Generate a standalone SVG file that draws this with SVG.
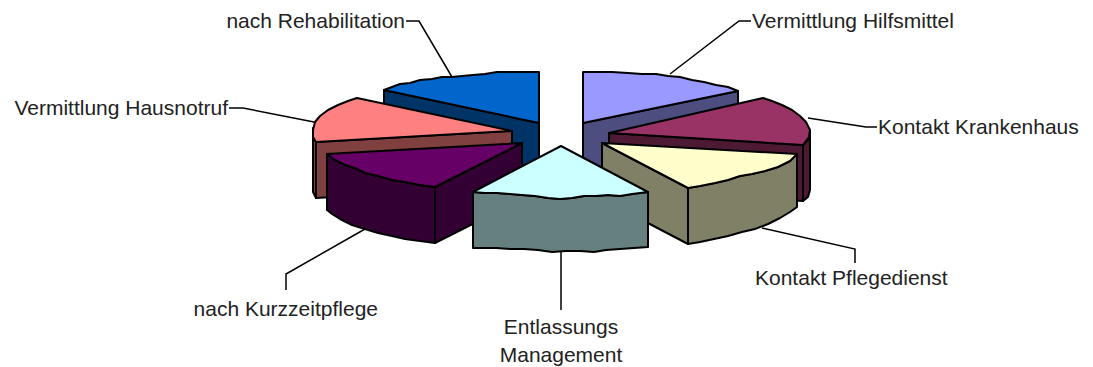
<svg xmlns="http://www.w3.org/2000/svg" width="1093" height="367" viewBox="0 0 1093 367">
<style>
.f{stroke:#000;stroke-width:2;stroke-linejoin:round}
.l{fill:none;stroke:#000;stroke-width:1.5}
text{font-family:"Liberation Sans",Arial,sans-serif;font-size:21px;fill:#222}
</style>
<rect width="1093" height="367" fill="#fff"/>
<g id="connectors">
<polyline class="l" points="406,21 419,21 452,77"/>
<polyline class="l" points="751,21 739,21 670,74"/>
<polyline class="l" points="229,108 243,108 314,122"/>
<polyline class="l" points="877,127 866,127 808,118"/>
<polyline class="l" points="762,228 855,249 855,263"/>
<polyline class="l" points="561,252 561,310"/>
<polyline class="l" points="365,229 286,274 286,290"/>
</g>
<g id="slice-rehabilitation">
<polygon class="f" fill="#003366" points="384,90 539,123 539,179 384,146"/>
<path class="f" fill="#0066cc" d="M539,72 L539,123 L384,90 L392,87 L400,84 L410,83 L420,80 L432,79 L442,77 L452,77 L462,76 L473,75 L485,74 L497,72 L510,72 L539,72 Z"/>
</g>
<g id="slice-hilfsmittel">
<polygon class="f" fill="#4d4d80" points="583,123 738,91 738,147 583,179"/>
<path class="f" fill="#9999ff" d="M583,72 L583,123 L738,91 L728,87 L716,85 L704,82 L692,80 L680,77 L668,76 L656,74 L642,74 L628,73 L612,72 L596,72 Z"/>
</g>
<g id="slice-hausnotruf">
<polygon class="f" fill="#804040" points="316,142 512,131 512,187 316,198"/>
<polygon class="f" fill="#804040" points="313,128 316,142 316,198 313,192"/>
<path class="f" fill="#ff8080" d="M512,131 L357,98 L348,101 L338,105 L328,110 L320,116 L315,122 L313,130 L313,137 L316,142 Z"/>
</g>
<g id="slice-krankenhaus">
<polygon class="f" fill="#4d1933" points="609,133 803,145 803,201 609,189"/>
<polygon class="f" fill="#4d1933" points="803,145 808,140 810,132 810,190 808,197 803,201"/>
<path class="f" fill="#993366" d="M609,133 L763,98 L772,101 L782,105 L792,110 L800,116 L806,122 L810,130 L809,137 L806,141 L803,145 Z"/>
</g>
<g id="slice-kurzzeitpflege">
<polygon class="f" fill="#330033" points="435,187 522,143 522,199 435,243"/>
<path class="f" fill="#330033" d="M327,154 L335,160 L345,165 L355,168 L365,173 L378,176 L392,180 L405,182 L420,185 L435,187 L435,243 L420,241 L405,239 L392,236 L378,233 L365,229 L352,225 L340,219 L332,214 L327,210 Z"/>
<path class="f" fill="#660066" d="M327,154 L522,143 L435,187 L420,185 L405,182 L392,180 L378,176 L365,173 L355,168 L345,165 L335,160 Z"/>
</g>
<g id="slice-pflegedienst">
<polygon class="f" fill="#808066" points="602,143 688,188 688,244 602,199"/>
<path class="f" fill="#808066" d="M797,154 L790,161 L778,167 L765,171 L752,174 L740,176 L728,180 L715,183 L700,186 L688,188 L688,244 L700,242 L714,239 L728,236 L742,232 L755,229 L768,224 L780,218 L790,212 L797,207 Z"/>
<path class="f" fill="#ffffcc" d="M602,143 L797,154 L790,161 L778,167 L765,171 L752,174 L740,176 L728,180 L715,183 L700,186 L688,188 Z"/>
</g>
<g id="slice-entlassungs">
<path class="f" fill="#668080" d="M473,192 L485,193 L497,193 L510,194 L522,195 L535,196 L548,198 L560,199 L572,198 L584,196 L596,196 L608,195 L620,196 L632,194 L648,192 L648,247 L634,248 L620,249 L606,250 L594,252 L580,251 L566,251 L552,252 L538,250 L524,249 L510,249 L496,248 L484,248 L473,248 Z"/>
<path class="f" fill="#ccffff" d="M561,146 L648,192 L632,194 L620,196 L608,195 L596,196 L584,196 L572,198 L560,199 L548,198 L535,196 L522,195 L510,194 L497,193 L485,193 L473,192 Z"/>
</g>
<g id="labels">
<text x="405" y="28" text-anchor="end">nach Rehabilitation</text>
<text x="752" y="28">Vermittlung Hilfsmittel</text>
<text x="228" y="115" text-anchor="end">Vermittlung Hausnotruf</text>
<text x="878" y="134">Kontakt Krankenhaus</text>
<text x="755" y="285">Kontakt Pflegedienst</text>
<text x="378" y="316" text-anchor="end">nach Kurzzeitpflege</text>
<text x="561" y="334" text-anchor="middle">Entlassungs</text>
<text x="561" y="362" text-anchor="middle">Management</text>
</g>
</svg>
